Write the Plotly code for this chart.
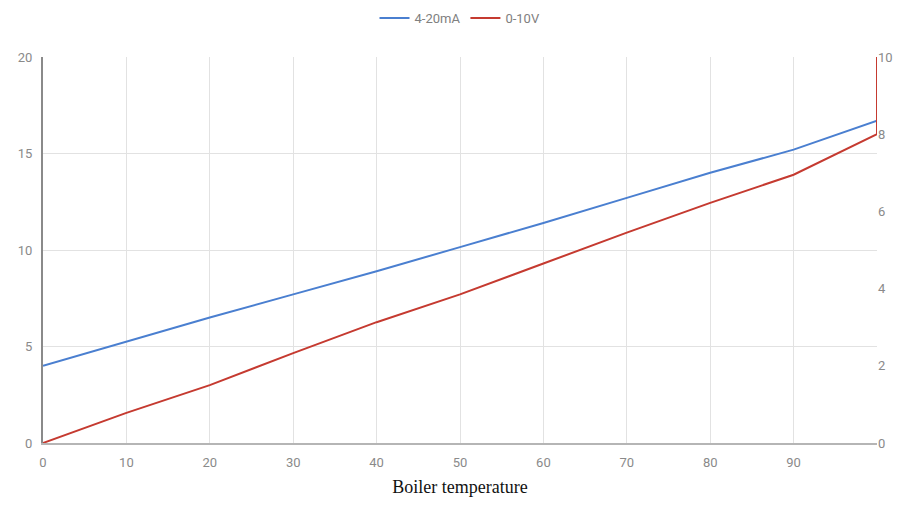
import plotly.graph_objects as go

temperature = [0, 10, 20, 30, 40, 50, 60, 70, 80, 90, 100]
current_ma = [4.0, 5.25, 6.5, 7.7, 8.9, 10.15, 11.4, 12.7, 14.0, 15.2, 16.7]
temperature_v = [0, 10, 20, 30, 40, 50, 60, 70, 80, 90, 100, 100]
voltage_v = [0.0, 0.78, 1.5, 2.33, 3.13, 3.85, 4.65, 5.45, 6.22, 6.95, 8.0, 10.0]
x_ticks = [0, 10, 20, 30, 40, 50, 60, 70, 80, 90]

fig = go.Figure()
fig.add_trace(go.Scatter(x=temperature, y=current_ma, mode="lines", name="4-20mA",
                         line=dict(color="#4a7fd0", width=2)))
fig.add_trace(go.Scatter(x=temperature_v, y=voltage_v, mode="lines", name="0-10V",
                         yaxis="y2", line=dict(color="#c53a30", width=2)))

tickfont = dict(family="Roboto, Liberation Sans, Arial", size=13, color="#8a8a8a")
fig.update_layout(
    width=893, height=497,
    margin=dict(l=35, r=24, t=49, b=62),
    paper_bgcolor="white", plot_bgcolor="white",
    showlegend=True,
    legend=dict(orientation="h", x=0.5, xanchor="center", yref="container",
                y=0.98, yanchor="middle", itemwidth=30,
                font=dict(family="Roboto, Liberation Sans, Arial", size=13, color="#808080")),
    xaxis=dict(range=[0, 100], tickvals=x_ticks, showgrid=True, gridcolor="#e2e2e2",
               gridwidth=1, showline=True, linecolor="#b5b5b5", linewidth=2,
               zeroline=False, tickfont=tickfont, ticks="", ticklabelstandoff=6,
               automargin=False,
               title=dict(text="Boiler temperature", standoff=12,
                          font=dict(family="Liberation Serif, Times New Roman, serif",
                                    size=18, color="#111"))),
    yaxis=dict(range=[0, 20], dtick=5, showgrid=True, gridcolor="#e2e2e2", gridwidth=1,
               showline=True, linecolor="#8a8a8a", linewidth=2, zeroline=False,
               tickfont=tickfont, ticks="", ticklabelstandoff=6, automargin=False),
    yaxis2=dict(range=[0, 10], dtick=2, overlaying="y", side="right", showgrid=False,
                showline=False, zeroline=False, tickfont=tickfont, ticks="",
                automargin=False),
)
fig.write_html("out.html")
